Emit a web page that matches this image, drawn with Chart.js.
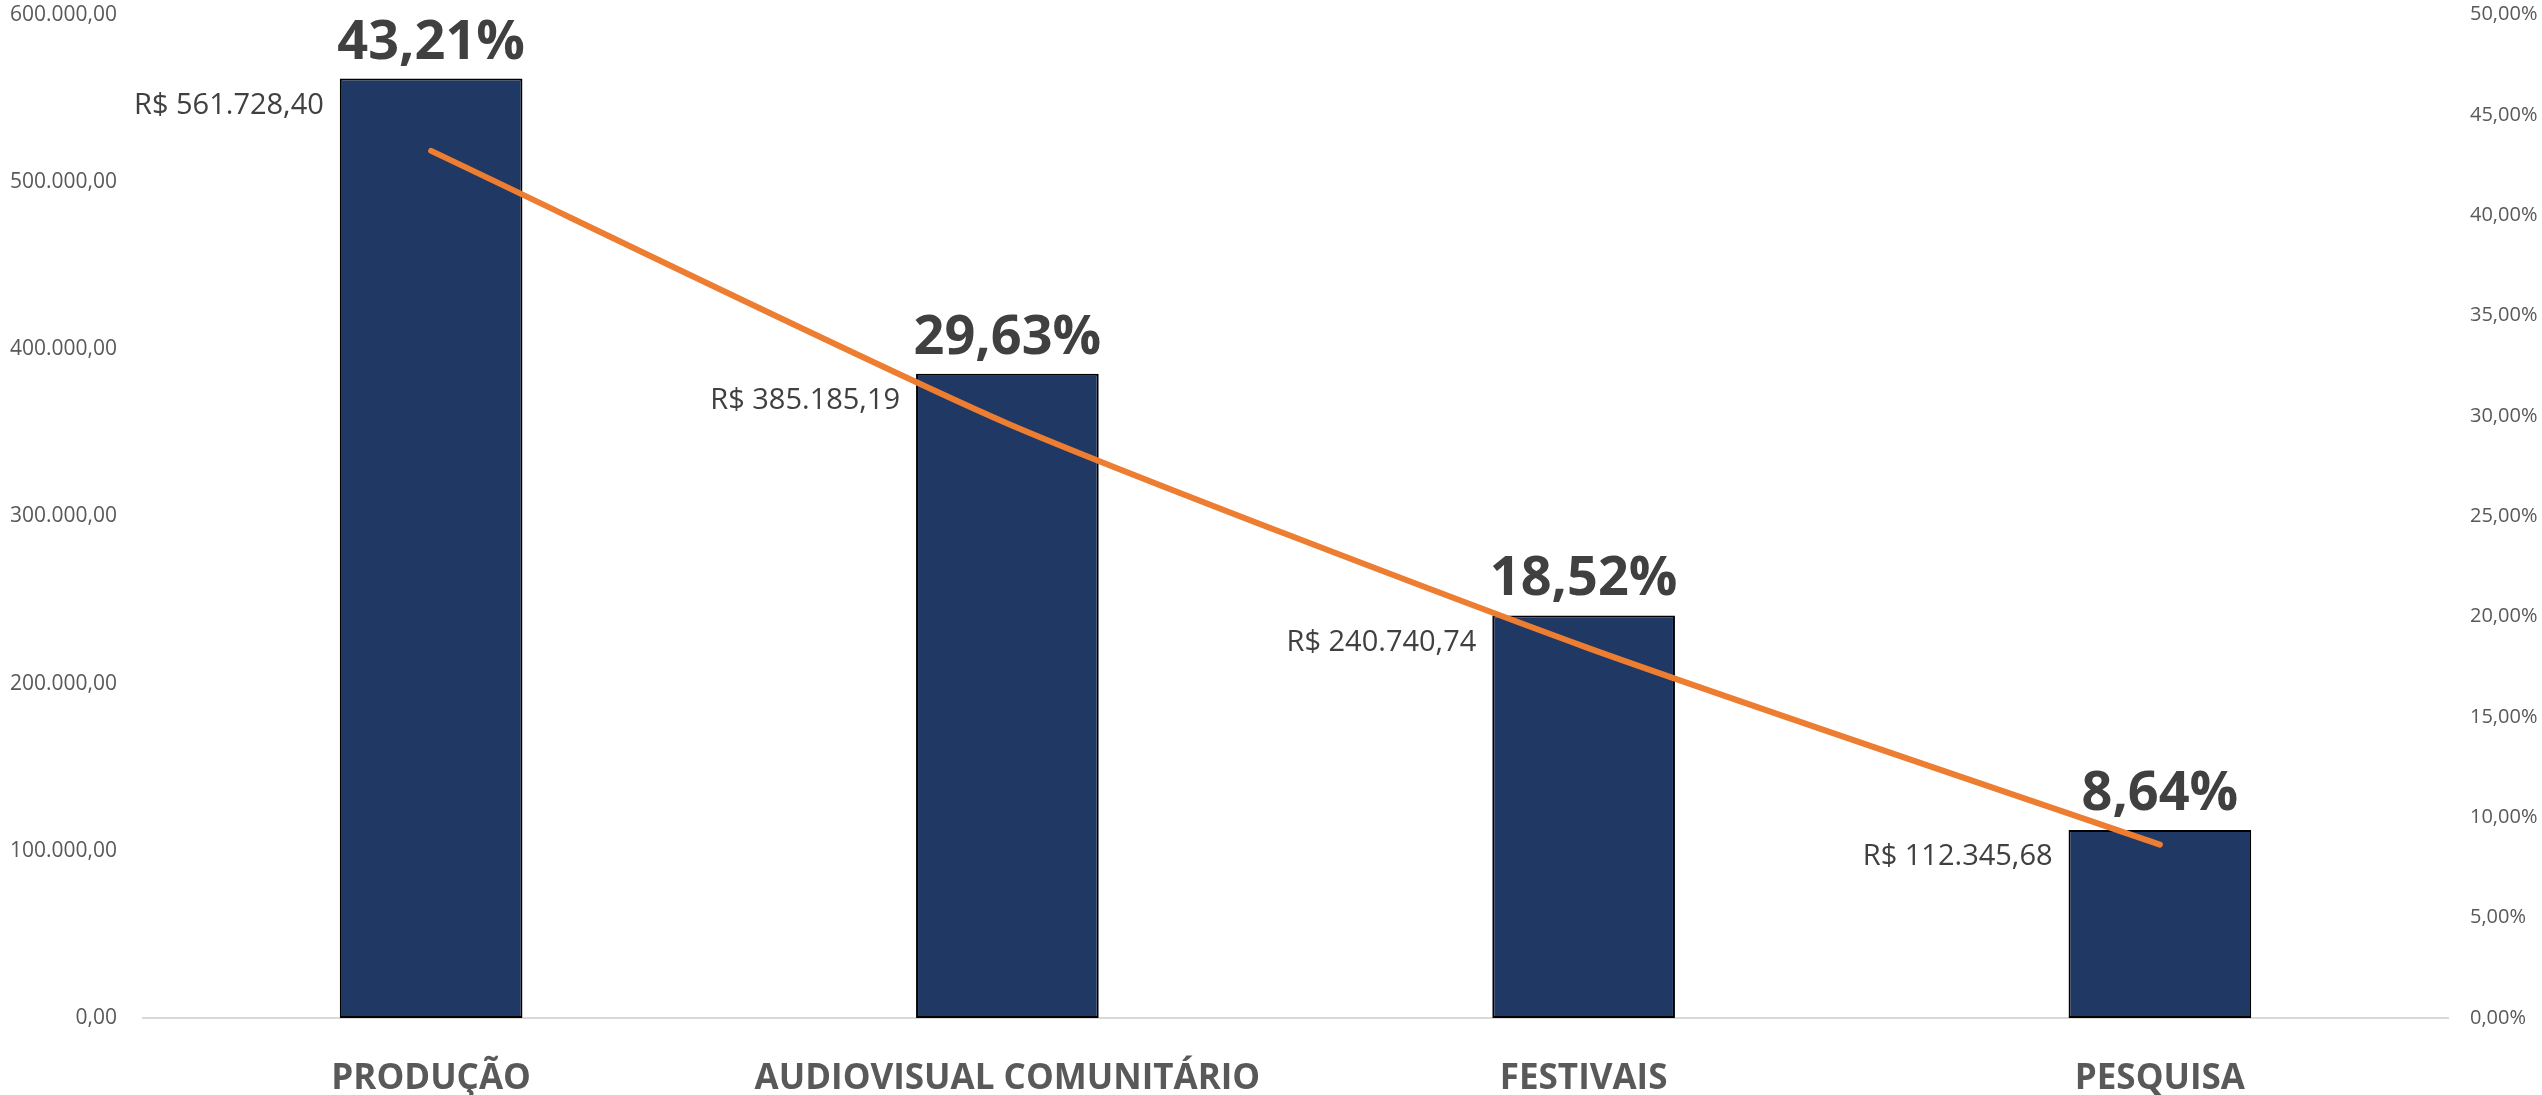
<!DOCTYPE html>
<html>
<head>
<meta charset="utf-8">
<script src="https://cdn.jsdelivr.net/npm/chart.js@4.4.1/dist/chart.umd.min.js"></script>
<style>
  html, body { margin: 0; padding: 0; background: #fff; }
  #wrap { width: 2542px; height: 1095px; position: relative; }
</style>
</head>
<body>
<div id="wrap"><canvas id="myChart"></canvas></div>
<script>
const categories = ['PRODUÇÃO', 'AUDIOVISUAL COMUNITÁRIO', 'FESTIVAIS', 'PESQUISA'];
const amounts = [561728.40, 385185.19, 240740.74, 112345.68];
const shares = [43.21, 29.63, 18.52, 8.64];

// number -> "561.728,40"
function br(n, d) {
    const parts = n.toFixed(d).split('.');
    const int = parts[0].replace(/\B(?=(\d{3})+(?!\d))/g, '.');
    return parts[1] ? int + ',' + parts[1] : int;
}

// labels next to / above the bars
const barLabels = {
    id: 'barLabels',
    afterDatasetsDraw(chart) {
        const ctx = chart.ctx;
        const meta = chart.getDatasetMeta(1);
        ctx.save();
        meta.data.forEach((bar, i) => {
            ctx.fillStyle = '#404040';
            ctx.font = 'bold 54px "Open Sans"';
            ctx.textAlign = 'center';
            ctx.textBaseline = 'alphabetic';
            ctx.fillText(br(shares[i], 2) + '%', bar.x, bar.y - 20);

            ctx.font = '29px "Open Sans"';
            ctx.textAlign = 'right';
            ctx.textBaseline = 'middle';
            ctx.fillText('R$ ' + br(amounts[i], 2), bar.x - bar.width / 2 - 16, bar.y + 27);
        });
        ctx.restore();
    }
};

const ctx = document.getElementById('myChart');

new Chart(ctx, {
    data: {
        labels: categories,
        datasets: [{
            type: 'line',
            data: shares,
            yAxisID: 'y1',
            borderColor: '#ED7D31',
            borderWidth: 6,
            borderCapStyle: 'round',
            pointRadius: 0,
            tension: 0.2,
            fill: false,
            order: 0
        }, {
            type: 'bar',
            data: amounts,
            yAxisID: 'y',
            backgroundColor: '#203864',
            borderColor: '#000000',
            borderWidth: 2,
            borderSkipped: false,
            categoryPercentage: 1,
            barPercentage: 0.317,
            order: 1
        }]
    },
    options: {
        responsive: true,
        maintainAspectRatio: false,
        animation: false,
        layout: { padding: { top: 0 } },
        plugins: {
            legend: { display: false },
            tooltip: { enabled: false }
        },
        scales: {
            x: {
                grid: { display: false, drawTicks: false },
                border: { color: '#D9D9D9', width: 2 },
                ticks: {
                    color: '#595959',
                    font: { family: 'Open Sans', size: 35, weight: 'bold' },
                    padding: 40,
                    maxRotation: 0,
                    autoSkip: false
                },
                afterFit: s => { s.height = 77; }
            },
            y: {
                position: 'left',
                min: 0,
                max: 600000,
                // tick length used only as spacing, so the top padding stays small
                grid: { display: false, drawTicks: true, tickLength: 24 },
                border: { display: false },
                ticks: {
                    stepSize: 100000,
                    color: '#595959',
                    font: { family: 'Open Sans', size: 21 },
                    padding: 2,
                    callback: v => br(v, 2)
                },
                afterFit: s => { s.width = 143; }
            },
            y1: {
                position: 'right',
                min: 0,
                max: 50,
                grid: { display: false, drawTicks: true, tickLength: 20 },
                border: { display: false },
                ticks: {
                    stepSize: 5,
                    color: '#595959',
                    font: { family: 'Open Sans', size: 20 },
                    padding: 2,
                    callback: v => br(v, 2) + '%'
                },
                afterFit: s => { s.width = 94; }
            }
        }
    },
    plugins: [barLabels]
});
</script>
</body>
</html>
